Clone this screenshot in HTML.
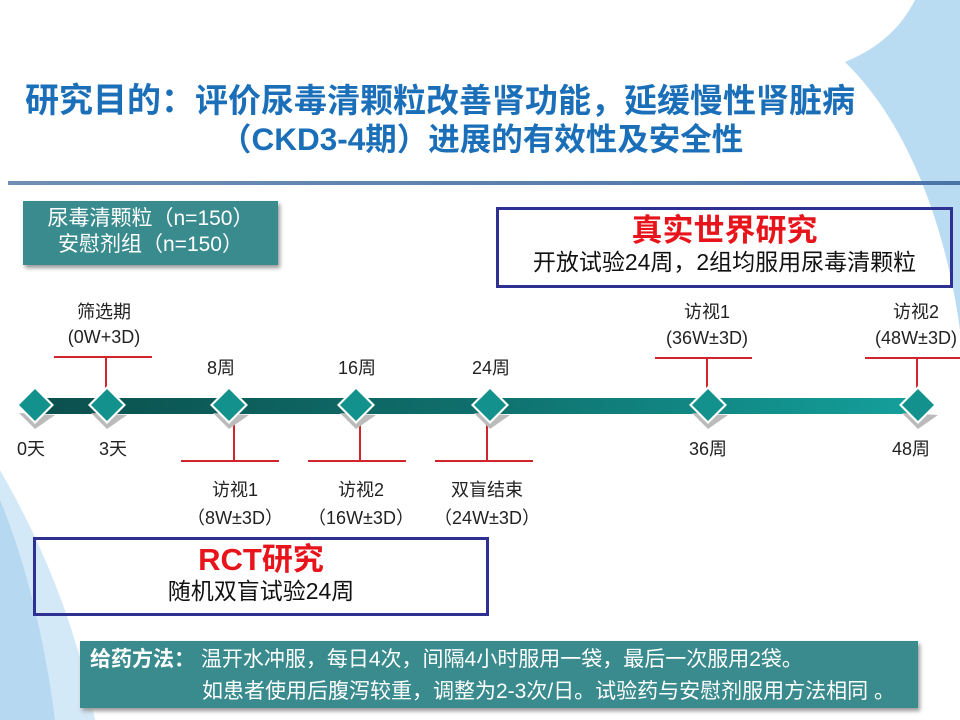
<!DOCTYPE html>
<html><head><meta charset="utf-8"><style>
body{margin:0;width:960px;height:720px;overflow:hidden;background:#fff;position:relative;font-family:"Liberation Sans","Noto Sans CJK SC",sans-serif;}
.a{position:absolute;white-space:nowrap}
.t{font-size:18px;color:#222;text-align:center;transform:translateX(-50%)}
</style></head><body>
<svg class="a" style="left:0;top:0" width="960" height="720">
<defs>
<linearGradient id="bar" x1="0" x2="1"><stop offset="0" stop-color="#0b4f4d"/><stop offset="0.5" stop-color="#0f6f6c"/><stop offset="1" stop-color="#14a09c"/></linearGradient>
<linearGradient id="sep" x1="0" x2="1"><stop offset="0" stop-color="#6f8fb5"/><stop offset="1" stop-color="#4a73a8"/></linearGradient>
</defs>
<path d="M915 0 C900 30 875 50 845 62 C905 120 945 220 960 330 L960 0Z" fill="#b9dcf3"/>
<path d="M0 470 C40 540 75 620 95 720 L0 720Z" fill="#d4e9f7"/>
<path d="M0 500 C25 560 45 640 55 720 L0 720Z" fill="#b6d8f1"/>
<rect x="8" y="181" width="952" height="4" fill="url(#sep)"/>
<rect x="30" y="398" width="890" height="16" fill="url(#bar)"/>
<g stroke="#d0262b" stroke-width="2" fill="none">
<line x1="54" y1="357" x2="152" y2="357"/><line x1="106" y1="357" x2="106" y2="392"/>
<line x1="181" y1="461" x2="279" y2="461"/><line x1="234" y1="420" x2="234" y2="461"/>
<line x1="308" y1="461" x2="406" y2="461"/><line x1="360" y1="420" x2="360" y2="461"/>
<line x1="435" y1="461" x2="533" y2="461"/><line x1="487" y1="420" x2="487" y2="461"/>
<line x1="655" y1="358" x2="752" y2="358"/><line x1="707" y1="358" x2="707" y2="392"/>
<line x1="865" y1="358" x2="960" y2="358"/><line x1="917" y1="358" x2="917" y2="392"/>
</g>
<g>
<g transform="translate(35,405)"><path d="M-16 8 L0 24 L20 10Z" fill="#bbb"/><path d="M0 -19 L19 0 L0 19 L-19 0Z" fill="#fff"/><path d="M0 -16 L16 0 L0 16 L-16 0Z" fill="#13918d"/></g>
<g transform="translate(107,405)"><path d="M-16 8 L0 24 L20 10Z" fill="#bbb"/><path d="M0 -19 L19 0 L0 19 L-19 0Z" fill="#fff"/><path d="M0 -16 L16 0 L0 16 L-16 0Z" fill="#13918d"/></g>
<g transform="translate(229,405)"><path d="M-16 8 L0 24 L20 10Z" fill="#bbb"/><path d="M0 -19 L19 0 L0 19 L-19 0Z" fill="#fff"/><path d="M0 -16 L16 0 L0 16 L-16 0Z" fill="#13918d"/></g>
<g transform="translate(356,405)"><path d="M-16 8 L0 24 L20 10Z" fill="#bbb"/><path d="M0 -19 L19 0 L0 19 L-19 0Z" fill="#fff"/><path d="M0 -16 L16 0 L0 16 L-16 0Z" fill="#13918d"/></g>
<g transform="translate(490,405)"><path d="M-16 8 L0 24 L20 10Z" fill="#bbb"/><path d="M0 -19 L19 0 L0 19 L-19 0Z" fill="#fff"/><path d="M0 -16 L16 0 L0 16 L-16 0Z" fill="#13918d"/></g>
<g transform="translate(708,405)"><path d="M-16 8 L0 24 L20 10Z" fill="#bbb"/><path d="M0 -19 L19 0 L0 19 L-19 0Z" fill="#fff"/><path d="M0 -16 L16 0 L0 16 L-16 0Z" fill="#13918d"/></g>
<g transform="translate(918,405)"><path d="M-16 8 L0 24 L20 10Z" fill="#bbb"/><path d="M0 -19 L19 0 L0 19 L-19 0Z" fill="#fff"/><path d="M0 -16 L16 0 L0 16 L-16 0Z" fill="#13918d"/></g>
</g>
</svg>
<div class="a" style="left:25px;top:73px;font-size:34px;font-weight:bold;color:#1a6fb8">研究目的：<span style="font-size:33px">评价尿毒清颗粒改善肾功能，延缓慢性肾脏病</span></div>
<div class="a" style="left:220px;top:114px;font-size:31.5px;font-weight:bold;color:#1a6fb8">（CKD3-4期）进展的有效性及安全性</div>
<div class="a" style="left:23px;top:201px;width:255px;height:64px;background:#3a8b8e;box-shadow:2px 3px 4px #999;color:#fff;font-size:21px;line-height:26px;text-align:center;padding-top:5px;box-sizing:border-box">尿毒清颗粒（n=150）<br>安慰剂组（n=150）</div>
<div class="a" style="left:496px;top:207px;width:457px;height:81px;border:3px solid #2e3192;box-sizing:border-box;text-align:center">
<div style="color:#e8141b;font-size:31px;font-weight:bold;margin-top:4px;line-height:34px">真实世界研究</div>
<div style="font-size:23px;color:#111;line-height:28px">开放试验24周，2组均服用尿毒清颗粒</div></div>
<div class="a t" style="left:104px;top:298px">筛选期</div>
<div class="a t" style="left:104px;top:327px">(0W+3D)</div>
<div class="a t" style="left:221px;top:354px">8周</div>
<div class="a t" style="left:357px;top:354px">16周</div>
<div class="a t" style="left:491px;top:354px">24周</div>
<div class="a t" style="left:707px;top:298px">访视1</div>
<div class="a t" style="left:707px;top:328px">(36W±3D)</div>
<div class="a t" style="left:916px;top:298px">访视2</div>
<div class="a t" style="left:916px;top:328px">(48W±3D)</div>
<div class="a t" style="left:31px;top:435px">0天</div>
<div class="a t" style="left:113px;top:435px">3天</div>
<div class="a t" style="left:708px;top:435px">36周</div>
<div class="a t" style="left:911px;top:435px">48周</div>
<div class="a t" style="left:235px;top:476px">访视1</div>
<div class="a t" style="left:235px;top:504px">（8W±3D）</div>
<div class="a t" style="left:361px;top:476px">访视2</div>
<div class="a t" style="left:361px;top:504px">（16W±3D）</div>
<div class="a t" style="left:487px;top:476px">双盲结束</div>
<div class="a t" style="left:487px;top:504px">（24W±3D）</div>
<div class="a" style="left:33px;top:537px;width:456px;height:79px;border:3px solid #2e3192;box-sizing:border-box;text-align:center">
<div style="color:#e8141b;font-size:31px;font-weight:bold;margin-top:3px;line-height:34px">RCT研究</div>
<div style="font-size:23px;color:#111;line-height:28px">随机双盲试验24周</div></div>
<div class="a" style="left:80px;top:641px;width:838px;height:67px;background:#3a8b8e;box-shadow:2px 3px 4px #999;color:#fff;font-size:21px;line-height:32px;padding:3px 0 0 10px;box-sizing:border-box">
<div><b>给药方法：</b> 温开水冲服，每日4次，间隔4小时服用一袋，最后一次服用2袋。</div>
<div style="padding-left:112px">如患者使用后腹泻较重，调整为2-3次/日。试验药与安慰剂服用方法相同 。</div></div>
</body></html>
